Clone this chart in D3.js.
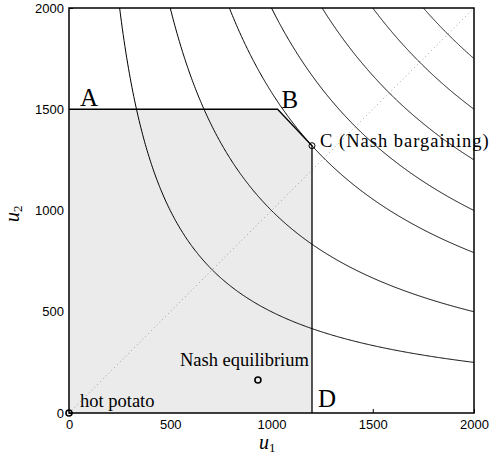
<!DOCTYPE html>
<html>
<head>
<meta charset="utf-8">
<script src="https://cdn.jsdelivr.net/npm/d3@7"></script>
<style>
body { margin: 0; background: #fff; }
</style>
</head>
<body>
<script>
const width = 490, height = 454;

// Nash product level curves u1*u2 = k
const levels = [500000, 1000000, 1584000, 2000000, 2500000, 3000000, 3500000];
// bargaining set polygon (u1, u2)
const region = [[0, 0], [0, 1500], [1030, 1500], [1200, 1320], [1200, 0]];
const ticks = [0, 500, 1000, 1500, 2000];
const points = [
  {name: "hot potato", u1: 0, u2: 0},
  {name: "Nash equilibrium", u1: 933, u2: 163},
  {name: "C (Nash bargaining)", u1: 1200, u2: 1320}
];
const corners = [
  {name: "A", u1: 0, u2: 1500},
  {name: "B", u1: 1030, u2: 1500},
  {name: "D", u1: 1200, u2: 0}
];

const svg = d3.select('body')
  .append('svg')
  .attr('width', width)
  .attr('height', height)
  .attr('viewBox', [0, 0, width, height]);

const x = d3.scaleLinear().domain([0, 2000]).range([69, 474]);
const y = d3.scaleLinear().domain([0, 2000]).range([413, 8]);

svg.append("clipPath").attr("id", "clip")
  .append("rect")
  .attr("x", x(0)).attr("y", y(2000))
  .attr("width", x(2000) - x(0)).attr("height", y(0) - y(2000));

// ticks inside the box
const xAxis = svg.append("g")
  .attr("transform", `translate(0,${y(0)})`)
  .call(d3.axisBottom(x).tickValues(ticks).tickFormat(d3.format("d")).tickSize(-4).tickPadding(7));
const yAxis = svg.append("g")
  .attr("transform", `translate(${x(0)},0)`)
  .call(d3.axisLeft(y).tickValues(ticks).tickFormat(d3.format("d")).tickSize(-4).tickPadding(5));
[xAxis, yAxis].forEach(a => {
  a.select(".domain").remove();
  a.selectAll("text").attr("font-family", "Liberation Sans, Arial, sans-serif")
    .attr("font-size", 13).attr("fill", "#000");
  a.selectAll("line").attr("stroke", "#000");
});

// shaded region
const line = d3.line().x(d => x(d[0])).y(d => y(d[1]));
svg.append("path")
  .attr("d", line(region) + "Z")
  .attr("fill", "#ebebeb")
  .attr("stroke", "none");

// diagonal
svg.append("line")
  .attr("x1", x(0)).attr("y1", y(0))
  .attr("x2", x(2000)).attr("y2", y(2000))
  .attr("stroke", "#888")
  .attr("stroke-width", 0.8)
  .attr("stroke-dasharray", "1,3");

// level curves
const g = svg.append("g").attr("clip-path", "url(#clip)");
levels.forEach(k => {
  const pts = d3.range(0, 401).map(i => {
    const u1 = k / 2000 + i * (2000 - k / 2000) / 400;
    return [u1, k / u1];
  });
  g.append("path")
    .attr("d", line(pts))
    .attr("fill", "none")
    .attr("stroke", "#000")
    .attr("stroke-width", 1);
});

// region boundary (top and right sides)
svg.append("path")
  .attr("d", line(region.slice(1)))
  .attr("fill", "none")
  .attr("stroke", "#000")
  .attr("stroke-width", 1.3);

// box
svg.append("rect")
  .attr("x", x(0)).attr("y", y(2000))
  .attr("width", x(2000) - x(0)).attr("height", y(0) - y(2000))
  .attr("fill", "none")
  .attr("stroke", "#000")
  .attr("stroke-width", 1.5);

// points
svg.selectAll("circle.pt")
  .data(points)
  .enter()
  .append("circle")
  .attr("class", "pt")
  .attr("cx", d => x(d.u1))
  .attr("cy", d => y(d.u2))
  .attr("r", 3)
  .attr("fill", "none")
  .attr("stroke", "#000")
  .attr("stroke-width", d => d.name == "C (Nash bargaining)" ? 1 : 1.6);

const serif = "Liberation Serif, Times New Roman, serif";
const labelPos = {
  "hot potato": [11, -6],
  "Nash equilibrium": [-78, -14],
  "C (Nash bargaining)": [8, 1]
};
svg.selectAll("text.pt")
  .data(points)
  .enter()
  .append("text")
  .attr("class", "pt")
  .attr("x", d => x(d.u1) + labelPos[d.name][0])
  .attr("y", d => y(d.u2) + labelPos[d.name][1])
  .attr("font-family", serif)
  .attr("font-size", 18.5)
  .attr("letter-spacing", d => d.name == "C (Nash bargaining)" ? 1 : 0)
  .text(d => d.name);

const cornerPos = {A: [11, -3], B: [4, -1], D: [6, -6]};
svg.selectAll("text.corner")
  .data(corners)
  .enter()
  .append("text")
  .attr("class", "corner")
  .attr("x", d => x(d.u1) + cornerPos[d.name][0])
  .attr("y", d => y(d.u2) + cornerPos[d.name][1])
  .attr("font-family", serif)
  .attr("font-size", 25)
  .text(d => d.name);

// axis labels
const xl = svg.append("text")
  .attr("x", 259).attr("y", 449)
  .attr("font-family", serif).attr("font-style", "italic").attr("font-size", 20);
xl.append("tspan").text("u");
xl.append("tspan").attr("dy", 3).attr("font-size", 13).attr("font-style", "normal").text("1");

const yl = svg.append("text")
  .attr("transform", "translate(19,222) rotate(-90)")
  .attr("font-family", serif).attr("font-style", "italic").attr("font-size", 20);
yl.append("tspan").text("u");
yl.append("tspan").attr("dy", 3).attr("font-size", 13).attr("font-style", "normal").text("2");
</script>
</body>
</html>
